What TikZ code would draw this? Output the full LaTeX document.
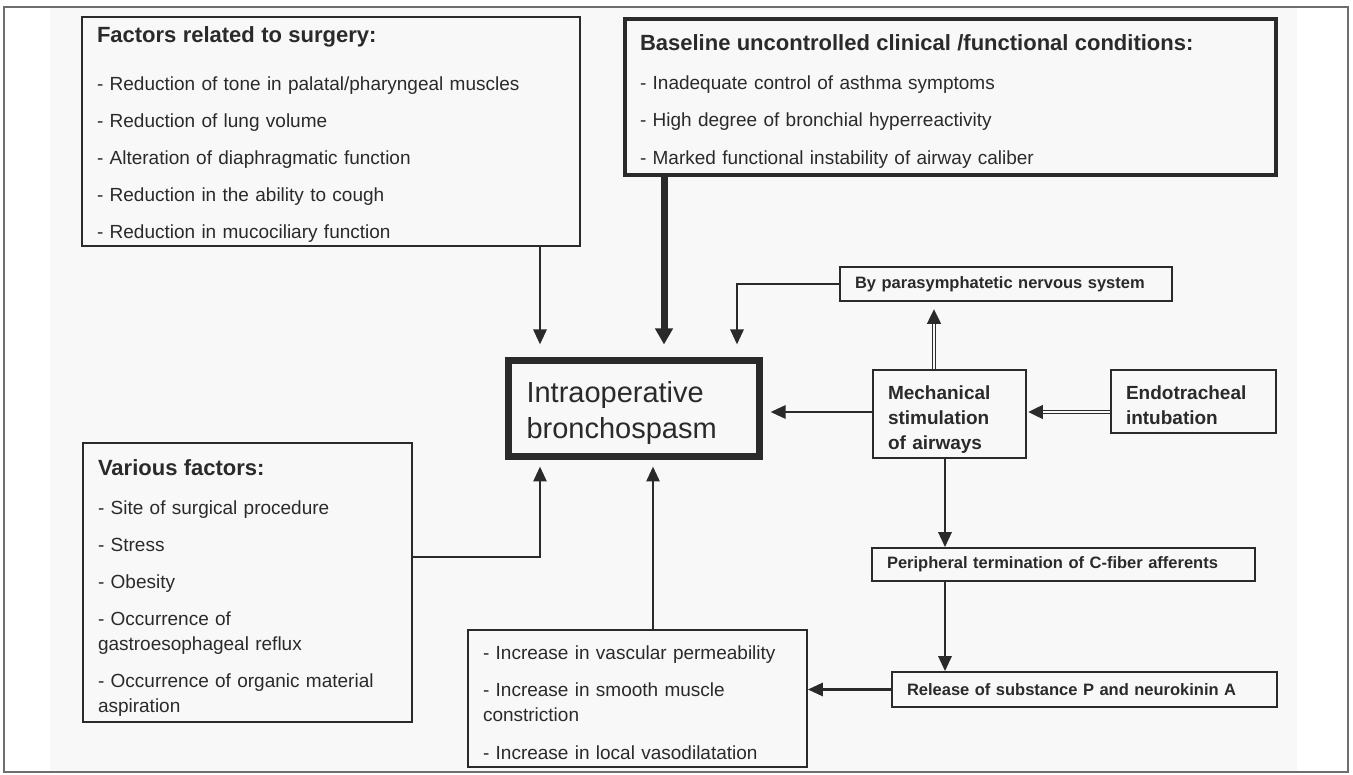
\documentclass[tikz,border=0pt]{standalone}
\usepackage{fontspec}
\setmainfont{Liberation Sans}
\usetikzlibrary{arrows.meta}
\definecolor{ink}{HTML}{2A2A2A}
\definecolor{rim}{HTML}{6E6E6E}
\definecolor{paper}{HTML}{F8F8F8}
\newcommand\ttl[2]{{\fontsize{22}{25}\selectfont\bfseries\rule{0pt}{#1}#2}}

\begin{document}
\begin{tikzpicture}[x=1pt,y=-1pt]
        \tikzstyle{every node} = [rectangle]
        \tikzstyle{box} = [draw=ink, line width=1.6pt, align=left, inner xsep=15pt, inner ysep=0pt, text=ink]
        \tikzstyle{item} = [font=\fontsize{19}{25}\selectfont]
        \tikzstyle{bold} = [font=\fontsize{19}{25}\selectfont\bfseries]
        \tikzstyle{tag} = [font=\fontsize{16.5}{20}\selectfont\bfseries]
        \tikzstyle{arr} = [draw=ink, line width=2.8pt, -{Triangle[length=15pt,width=13pt]}]
        \tikzstyle{fat} = [draw=ink, line width=7pt, -{Triangle[length=16pt,width=17pt]}]
        \tikzstyle{dbl} = [arr, line width=4pt, postaction={draw=paper, line width=1.4pt, -, shorten >=#1}]

        \useasboundingbox (0,0) rectangle (1353,775);
        \fill[white] (0,0) rectangle (1353,775);
        \fill[paper] (50,8) rectangle (1297,771);
        \draw[rim, line width=1.3pt] (4,7) rectangle (1348,772);

        \node[box, item, text width=468pt, minimum height=229pt] (0) at (331,131.5) {%
            \ttl{21pt}{Factors related to surgery:}\\[23pt]%
            - Reduction of tone in palatal/pharyngeal muscles\\[12pt]%
            - Reduction of lung volume\\[12pt]%
            - Alteration of diaphragmatic function\\[12pt]%
            - Reduction in the ability to cough\\[12pt]%
            - Reduction in mucociliary function};
        \node[box, item, line width=4pt, text width=621pt, minimum height=156pt] (1) at (950.5,97) {%
            \ttl{24pt}{Baseline uncontrolled clinical /functional conditions:}\\[14pt]%
            - Inadequate control of asthma symptoms\\[12.5pt]%
            - High degree of bronchial hyperreactivity\\[12.5pt]%
            - Marked functional instability of airway caliber};
        \node[box, tag, text width=302pt, minimum height=34pt] (2) at (1006,284) {By parasymphatetic nervous system};
        \node[box, item, text width=299pt, minimum height=279pt] (3) at (247.5,582.5) {%
            \ttl{26pt}{Various factors:}\\[14pt]%
            - Site of surgical procedure\\[12pt]%
            - Stress\\[12pt]%
            - Obesity\\[12pt]%
            - Occurrence of\\gastroesophageal reflux\\[12pt]%
            - Occurrence of organic material\\aspiration};
        \node[box, line width=7pt, inner xsep=18pt, text width=215pt, minimum height=96pt,
              font=\fontsize{29}{36}\selectfont] (4) at (634,408.5) {\rule{0pt}{31pt}Intraoperative\\bronchospasm};
        \node[box, bold, text width=123pt, minimum height=88pt] (5) at (949.5,414) {\rule{0pt}{25pt}Mechanical\\stimulation\\of airways};
        \node[box, bold, text width=135pt, minimum height=63pt] (6) at (1193.5,401.5) {\rule{0pt}{21pt}Endotracheal\\intubation};
        \node[box, tag, text width=353pt, minimum height=33pt] (7) at (1063.5,564.5) {Peripheral termination of C-fiber afferents};
        \node[box, tag, text width=355pt, minimum height=35pt] (8) at (1084.5,689.5) {Release of substance P and neurokinin A};
        \node[box, item, text width=309pt, minimum height=137pt] (9) at (637.5,698.5) {%
            \rule{0pt}{23pt}- Increase in vascular permeability\\[12pt]%
            - Increase in smooth muscle\\constriction\\[13pt]%
            - Increase in local vasodilatation};

        \coordinate (p1) at (540,557);
        \coordinate (p2) at (664,0);
        \coordinate (p3) at (737,0);
        \coordinate (p4) at (945,412);
        \coordinate (p5) at (934,0);
        \coordinate (p6) at (653,0);

        % into the bronchospasm box
        \draw[arr, shorten >=12.5pt] (0.south -| p1) -- (4.north -| p1);
        \draw[fat, shorten >=12.5pt] (1.south -| p2) -- (4.north -| p2);
        \draw[arr, shorten >=12.5pt] (2.west) -| (4.north -| p3);
        \draw[arr, shorten >=7.5pt] (5.west |- p4) -- (4.east |- p4);
        \draw[arr, shorten >=6.5pt] (9.north -| p6) -- (4.south -| p6);
        \draw[arr, shorten >=6.5pt] (3.east |- p1) -| (4.south -| p1);

        % airway stimulation chain
        \draw[dbl=22pt, shorten >=7pt] (5.north -| p5) -- (2.south -| p5);
        \draw[dbl=16pt, shorten >=1pt] (6.west |- p4) -- (5.east |- p4);
        \foreach \from/\to in {5/7, 7/8}
            \draw[arr] (\from.south -| p4) -- (\to.north -| p4);
        \draw[arr] (8.west) -- (9.east |- 8.west);
\end{tikzpicture}
\end{document}
